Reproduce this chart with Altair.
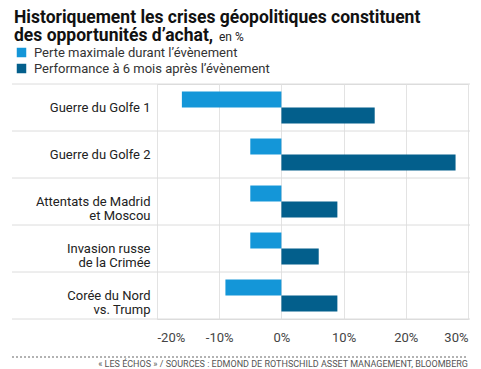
import altair as alt
import pandas as pd

categories = ["Guerre du Golfe 1", "Guerre du Golfe 2", "Attentats de Madrid\net Moscou",
              "Invasion russe\nde la Crimée", "Corée du Nord\nvs. Trump"]
series = ["Perte maximale durant l’évènement", "Performance à 6 mois après l’évènement"]
perte_max = [-16, -5, -5, -5, -9]
perf_6m = [15, 28, 9, 6, 9]
x_ticks = [-20, -10, 0, 10, 20, 30]

title1 = "Historiquement les crises géopolitiques constituent"
title2 = "des opportunités d’achat,"
unit = "en %"
source = "« LES ÉCHOS » / SOURCES : EDMOND DE ROTHSCHILD ASSET MANAGEMENT, BLOOMBERG"

colors = ["#1496d8", "#035f8c"]
FONT = "Roboto"
W, H = 311, 235

rows = []
for c, a, b in zip(categories, perte_max, perf_6m):
    rows.append({"cat": c, "serie": series[0], "v": a})
    rows.append({"cat": c, "serie": series[1], "v": b})
df = pd.DataFrame(rows)

bars = alt.Chart(df).mark_bar().encode(
    x=alt.X("v:Q", scale=alt.Scale(domain=[-20, 30], nice=False),
            axis=alt.Axis(values=x_ticks, title=None, domain=False, ticks=False,
                          grid=True, gridColor="#e3e3e3", labelExpr="datum.value + '%'",
                          labelFont=FONT, labelFontSize=13, labelColor="#444",
                          labelPadding=12)),
    y=alt.Y("cat:N", sort=categories,
            scale=alt.Scale(paddingInner=0, paddingOuter=0),
            axis=alt.Axis(title=None, domain=False, ticks=False, grid=False,
                          labelExpr="split(datum.label, '\\n')", labelFont=FONT,
                          labelFontSize=13, labelColor="#222", labelLineHeight=14,
                          labelAlign="right",
                          labelPadding=7, labelLimit=200)),
    yOffset=alt.YOffset("serie:N", sort=series,
                        scale=alt.Scale(paddingInner=0, paddingOuter=0.47)),
    color=alt.Color("serie:N", sort=series,
                    scale=alt.Scale(domain=series, range=colors),
                    legend=alt.Legend(title=None, orient="none", legendX=-142, legendY=-38,
                                      symbolType="square", symbolSize=90, symbolStrokeWidth=0,
                                      symbolOpacity=1, labelLimit=400,
                                      labelFont=FONT, labelFontSize=13, labelColor="#333",
                                      labelOffset=6, rowPadding=2, padding=0)),
)

cat_df = pd.DataFrame({"cat": categories})
sep_top = alt.Chart(cat_df).mark_rule(color="#dcdcdc", strokeWidth=1).encode(
    y=alt.Y("cat:N", sort=categories, bandPosition=0),
    x=alt.value(-145), x2=alt.value(W + 2),
)
sep_bot = alt.Chart(cat_df.tail(1)).mark_rule(color="#dcdcdc", strokeWidth=1).encode(
    y=alt.Y("cat:N", sort=categories, bandPosition=1),
    x=alt.value(-145), x2=alt.value(W + 2),
)

def txt(s, x, y, size, weight="normal", color="#111", align="left"):
    return alt.Chart(pd.DataFrame({"t": [s]})).mark_text(
        font=FONT, fontSize=size, fontWeight=weight, color=color,
        align=align, baseline="alphabetic").encode(
        text="t:N", x=alt.value(x), y=alt.value(y))

t1 = txt(title1, -143, -61, 17.5, "bold")
t2 = txt(title2, -143, -43, 17.5, "bold")
t3 = txt(unit, 62, -43, 12, "normal", "#222")
foot = txt(source, W, 282.5, 9, "normal", "#555", "right")
dotted = alt.Chart(pd.DataFrame({"a": [0]})).mark_rule(
    color="#666", strokeDash=[2, 2], strokeWidth=1).encode(
    x=alt.value(-145), x2=alt.value(W), y=alt.value(273))

chart = alt.layer(sep_top, sep_bot, bars, t1, t2, t3, dotted, foot).properties(
    width=W, height=H,
    autosize=alt.AutoSizeParams(type="none"),
    padding={"left": 149, "top": 76, "right": 5, "bottom": 50},
).configure_view(stroke=None).configure(background="white")

chart.save("out.html", embed_options={"renderer": "svg", "actions": False})
